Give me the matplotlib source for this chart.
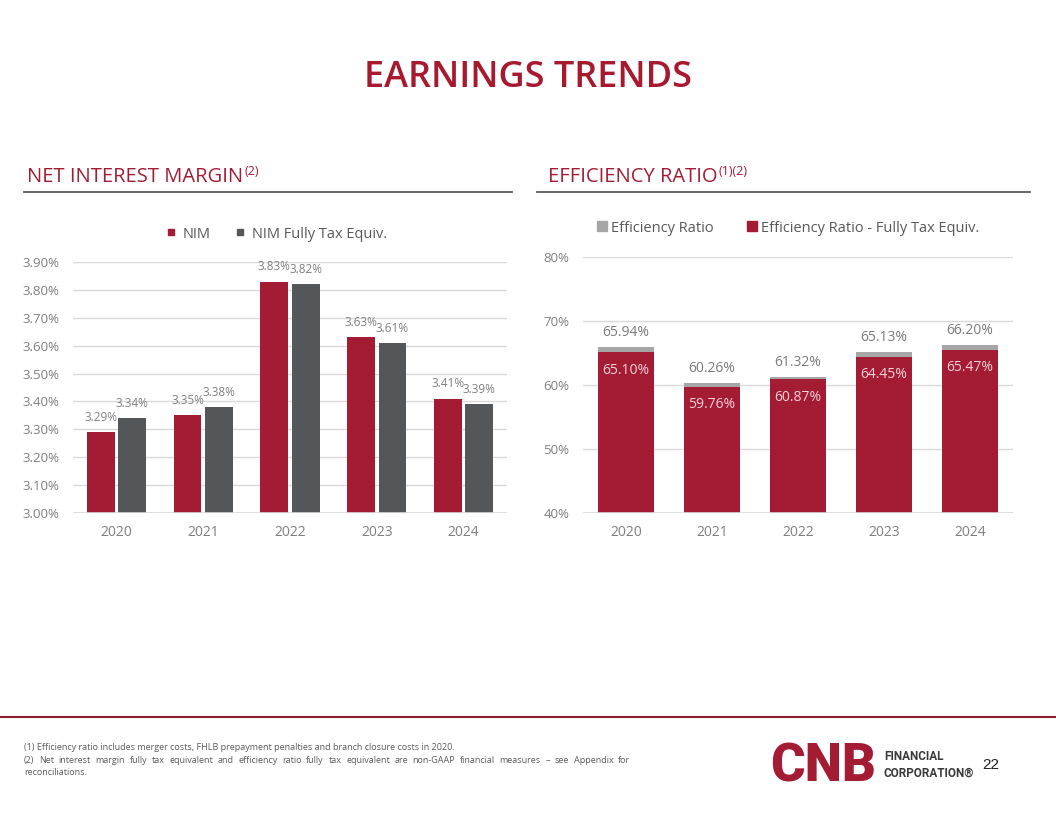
import matplotlib
matplotlib.use("Agg")
import matplotlib.pyplot as plt
from matplotlib.lines import Line2D
import numpy as np

# ---- data ----
years = ["2020", "2021", "2022", "2023", "2024"]
nim = [3.29, 3.35, 3.83, 3.63, 3.41]
nim_fte = [3.34, 3.38, 3.82, 3.61, 3.39]
nim_ticks = [3.00, 3.10, 3.20, 3.30, 3.40, 3.50, 3.60, 3.70, 3.80, 3.90]
eff = [65.94, 60.26, 61.32, 65.13, 66.20]
eff_fte = [65.10, 59.76, 60.87, 64.45, 65.47]
eff_ticks = [40, 50, 60, 70, 80]

footnote1 = "(1) Efficiency ratio includes merger costs, FHLB prepayment penalties and branch closure costs in 2020."
footnote2 = ("(2) Net interest margin fully tax equivalent and efficiency ratio fully tax equivalent "
             "are non-GAAP financial measures \u2013 see Appendix for")
footnote3 = "reconciliations."

RED = "#A31C34"
DARK = "#54575A"
LIGHT = "#A6A6A6"
GRID = "#D9D9D9"
TXT = "#7F7F7F"
W, H = 1056, 816

plt.rcParams["font.family"] = ["Open Sans", "DejaVu Sans"]
fig = plt.figure(figsize=(W / 100, H / 100), dpi=100)
fig.patch.set_facecolor("white")
renderer = fig.canvas.get_renderer()


def fx(x):
    return x / W


def fy(y):
    return 1 - y / H


def style_axes(ax):
    for s in ax.spines.values():
        s.set_visible(False)
    ax.tick_params(axis="both", length=0, colors=TXT, labelsize=9.5)
    ax.tick_params(axis="y", pad=10)
    ax.tick_params(axis="x", pad=9, labelsize=10)
    ax.grid(axis="y", color=GRID, linewidth=1)
    ax.set_axisbelow(True)


def header(x, y, main, sup, x0, x1, ly):
    t = fig.text(fx(x), fy(y), main, color=RED, fontsize=14.5, va="baseline", ha="left")
    bb = t.get_window_extent(renderer)
    fig.text(fx(bb.x1 + 1), fy(y - 7), sup, color=RED, fontsize=9, va="baseline", ha="left")
    fig.add_artist(Line2D([fx(x0), fx(x1)], [fy(ly), fy(ly)], color="#595959", lw=1.3))


# ---- title ----
fig.text(0.5, fy(78), "EARNINGS TRENDS", ha="center", va="center",
         fontsize=26, color="#A6192E", fontweight="semibold")

header(27, 182, "NET INTEREST MARGIN", "(2)", 24, 512, 192)
header(548, 182, "EFFICIENCY RATIO", "(1)(2)", 537, 1030, 192)

# ---- NIM chart ----
ax1 = fig.add_axes([fx(73), fy(513), fx(434), 251 / H])
style_axes(ax1)
x = np.arange(len(years))
off, bw = 0.18, 0.32
b1 = ax1.bar(x - off, nim, bw, color=RED, label="NIM")
b2 = ax1.bar(x + off, nim_fte, bw, color=DARK, label="NIM Fully Tax Equiv.")
ax1.set_ylim(3.0, 3.9)
ax1.set_xlim(-0.5, len(years) - 0.5)
ax1.set_yticks(nim_ticks)
ax1.set_yticklabels([f"{v:.2f}%" for v in nim_ticks])
ax1.set_xticks(x)
ax1.set_xticklabels(years)
ax1.axhline(3.0, color=GRID, lw=1.2)
for bars, vals in ((b1, nim), (b2, nim_fte)):
    for r, v in zip(bars, vals):
        ax1.annotate(f"{v:.2f}%", (r.get_x() + r.get_width() / 2, v), xytext=(0, 6),
                     textcoords="offset points", ha="center", va="bottom",
                     fontsize=8.5, color=TXT, annotation_clip=False)

h1 = [Line2D([], [], marker="s", ls="none", color=RED, markersize=4.5),
      Line2D([], [], marker="s", ls="none", color=DARK, markersize=4.5)]
fig.legend(h1, ["NIM", "NIM Fully Tax Equiv."], loc="center",
           bbox_to_anchor=(fx(276), fy(234)), ncol=2, frameon=False, fontsize=10.5,
           labelcolor="#595959", handletextpad=0.4, columnspacing=1.6, handlelength=0.8)

# ---- Efficiency chart ----
ax2 = fig.add_axes([fx(583), fy(513), fx(430), 256 / H])
style_axes(ax2)
bw2 = 0.66
g = ax2.bar(x, eff, bw2, color=LIGHT, label="Efficiency Ratio")
r2 = ax2.bar(x, eff_fte, bw2, color=RED, label="Efficiency Ratio - Fully Tax Equiv.")
ax2.set_ylim(40, 80)
ax2.set_xlim(-0.5, len(years) - 0.5)
ax2.set_yticks(eff_ticks)
ax2.set_yticklabels([f"{v}%" for v in eff_ticks])
ax2.set_xticks(x)
ax2.set_xticklabels(years)
ax2.axhline(40, color=GRID, lw=1.2)
for xi, v in zip(x, eff):
    ax2.annotate(f"{v:.2f}%", (xi, v), xytext=(0, 5), textcoords="offset points",
                 ha="center", va="bottom", fontsize=10, color="#7A7A7A", annotation_clip=False)
for xi, v in zip(x, eff_fte):
    ax2.annotate(f"{v:.2f}%", (xi, v), xytext=(0, -7.5), textcoords="offset points",
                 ha="center", va="top", fontsize=10, color="#F4D3D9")

h2 = [Line2D([], [], marker="s", ls="none", color=LIGHT, markersize=7),
      Line2D([], [], marker="s", ls="none", color=RED, markersize=7)]
fig.legend(h2, ["Efficiency Ratio", "Efficiency Ratio - Fully Tax Equiv."], loc="center",
           bbox_to_anchor=(fx(788), fy(228)), ncol=2, frameon=False, fontsize=10.5,
           labelcolor="#595959", handletextpad=0.25, columnspacing=2.2, handlelength=0.8)

# ---- footer ----
fig.add_artist(Line2D([0, 1], [fy(717), fy(717)], color="#8C1D2E", lw=1.5))
fn_kw = dict(fontsize=6.5, color="#595959", va="baseline", ha="left")
fig.text(fx(24), fy(750), footnote1, **fn_kw)

# second line justified to the right edge
words = footnote2.split(" ")
widths = []
for wd in words:
    t = fig.text(0, 0, wd, **fn_kw)
    widths.append(t.get_window_extent(renderer).width)
    t.remove()
gap = (630 - 24 - sum(widths)) / (len(words) - 1)
cx = 24
for wd, wdt in zip(words, widths):
    fig.text(fx(cx), fy(763), wd, **fn_kw)
    cx += wdt + gap
fig.text(fx(24), fy(775), footnote3, **fn_kw)

# logo + page number
fig.text(fx(770), fy(781), "CNB", fontsize=38, color=RED, fontweight="heavy",
         family=["Roboto", "DejaVu Sans"], va="baseline", ha="left")
fig.text(fx(884), fy(760), "FINANCIAL", fontsize=8.5, color="#3A3A3A", fontweight="bold",
         family=["Roboto", "DejaVu Sans"], va="baseline", ha="left")
fig.text(fx(884), fy(777), "CORPORATION\u00ae", fontsize=8.5, color="#3A3A3A", fontweight="bold",
         family=["Roboto", "DejaVu Sans"], va="baseline", ha="left")
fig.text(fx(991), fy(765), "22", fontsize=11, color="#222222",
         family=["Liberation Sans", "DejaVu Sans"], va="center", ha="center")

fig.savefig("out.png", dpi=100, facecolor="white")
